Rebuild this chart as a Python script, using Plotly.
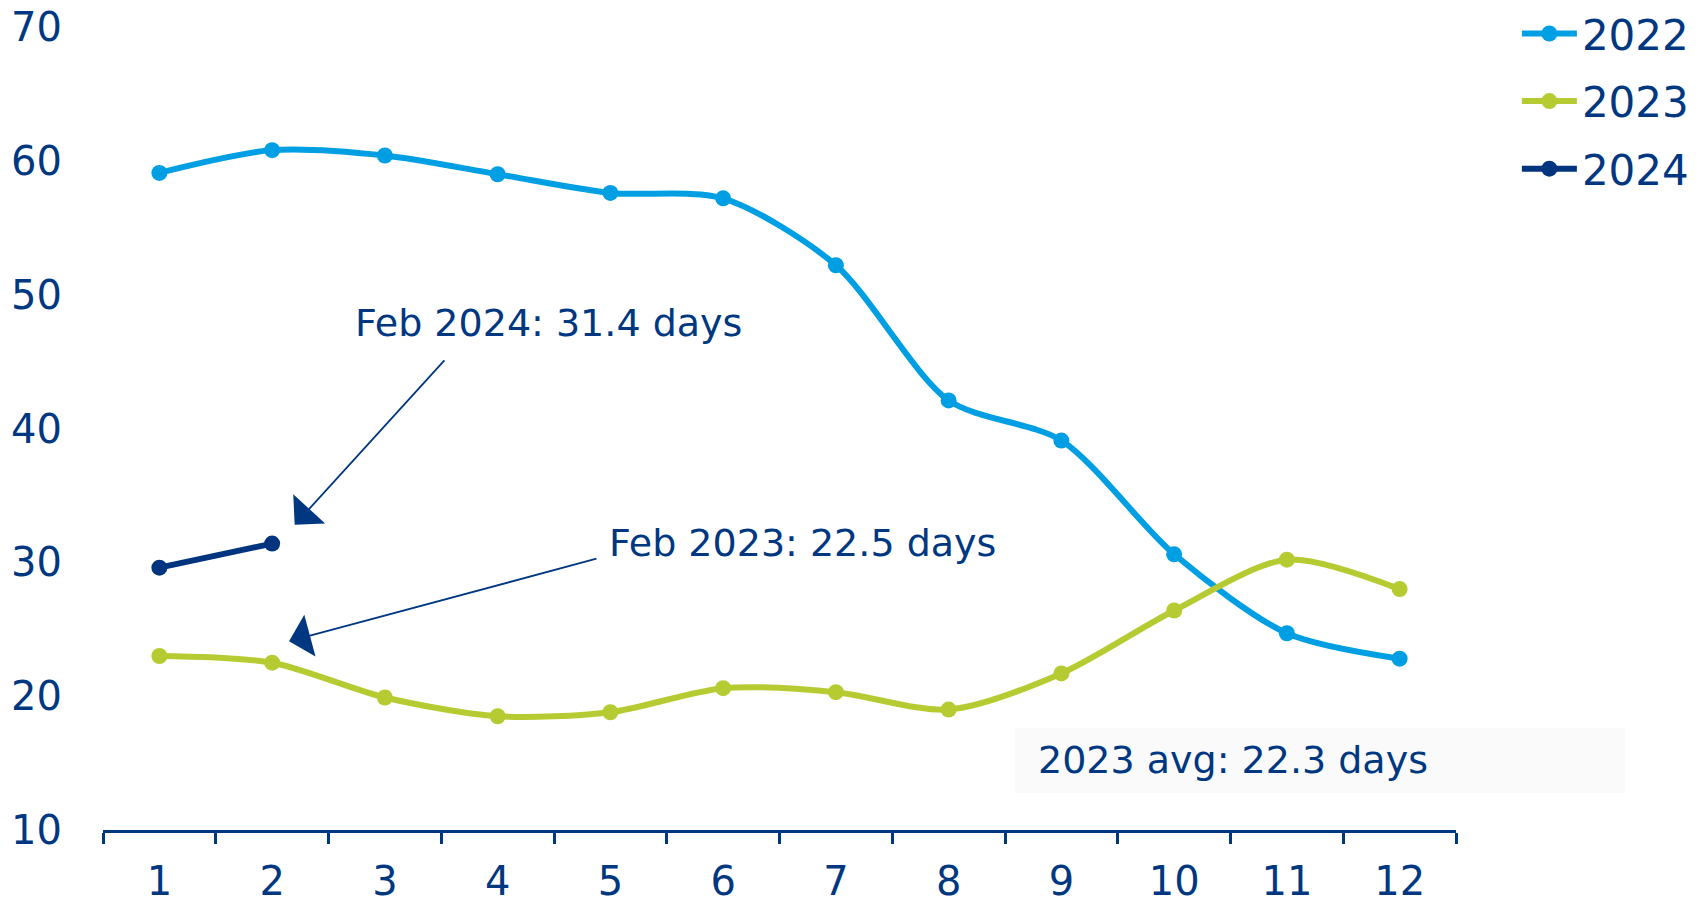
import plotly.graph_objects as go

# Monthly values (days) per year
months = [str(m) for m in range(1, 13)]
days_2022 = [59.1, 60.8, 60.4, 59.0, 57.6, 57.2, 52.2, 42.1, 39.1, 30.6, 24.7, 22.8]
days_2023 = [23.0, 22.5, 19.9, 18.5, 18.8, 20.6, 20.3, 19.0, 21.7, 26.4, 30.2, 28.0]
days_2024 = [29.6, 31.4]
y_ticks = [10, 20, 30, 40, 50, 60, 70]

NAVY = "#003781"
BLUE = "#009FE3"
LIME = "#B6CB31"
DARK = "#00347F"
FONT = "DejaVu Sans"

fig = go.Figure()

series = [
    ("2022", days_2022, BLUE, "spline"),
    ("2023", days_2023, LIME, "spline"),
    ("2024", days_2024, DARK, "linear"),
]
for name, vals, color, shape in series:
    fig.add_trace(go.Scatter(
        x=months[:len(vals)], y=vals, name=name, legendgroup=name,
        mode="lines+markers",
        line=dict(color=color, width=6, shape=shape, smoothing=0.8),
        marker=dict(color=color, size=16),
    ))

# Callout arrows (tail -> tip), positioned in axis coordinates
arrows = [
    (1.2, 32.8, 2.54, 45.2),
    (1.15, 24.1, 3.89, 30.3),
]
for x_tip, y_tip, x_tail, y_tail in arrows:
    fig.add_annotation(
        x=x_tip, y=y_tip, ax=x_tail, ay=y_tail, axref="x", ayref="y",
        text="", showarrow=True, arrowhead=1, arrowsize=4.0, arrowwidth=1.8,
        arrowcolor=NAVY,
    )

fig.add_annotation(x=1.72, y=47.9, text="Feb 2024: 31.4 days", showarrow=False,
                   xanchor="left", yanchor="middle",
                   font=dict(family=FONT, size=38, color=NAVY))
fig.add_annotation(x=3.97, y=31.45, text="Feb 2023: 22.5 days", showarrow=False,
                   xanchor="left", yanchor="middle",
                   font=dict(family=FONT, size=38, color=NAVY))

# Average label box
fig.add_shape(type="rect", xref="paper", yref="y", x0=0.674, x1=1.125, y0=12.77, y1=17.62,
              fillcolor="#FAFAFA", line=dict(width=0), layer="below")
fig.add_annotation(x=(1036 - 103.4) / 1352.2, xref="paper", y=15.2, yref="y",
                   text="2023 avg: 22.3 days", showarrow=False,
                   xanchor="left", yanchor="middle",
                   font=dict(family=FONT, size=38, color=NAVY))

fig.update_layout(
    width=1707, height=906,
    margin=dict(l=103, r=251, t=27, b=76, autoexpand=False),
    paper_bgcolor="white", plot_bgcolor="white",
    font=dict(family=FONT, size=38, color=NAVY),
    legend=dict(x=1.045, y=1.034, xanchor="left", yanchor="top",
                tracegroupgap=10, itemwidth=55, font=dict(size=42, color=NAVY),
                bgcolor="rgba(0,0,0,0)"),
    xaxis=dict(type="category", range=[-0.5, 11.5], tickson="boundaries",
               automargin=False,
               showgrid=False, showline=True, linecolor=NAVY, linewidth=3,
               ticks="outside", ticklen=11, tickwidth=3, tickcolor=NAVY,
               ticklabelstandoff=14, zeroline=False,
               tickfont=dict(family=FONT, size=40, color=NAVY)),
    yaxis=dict(range=[10, 70], tickvals=y_ticks, showgrid=False, zeroline=False,
               automargin=False,
               showline=False, ticks="", ticklabelstandoff=40,
               tickfont=dict(family=FONT, size=40, color=NAVY)),
)

fig.write_html("out.html")
